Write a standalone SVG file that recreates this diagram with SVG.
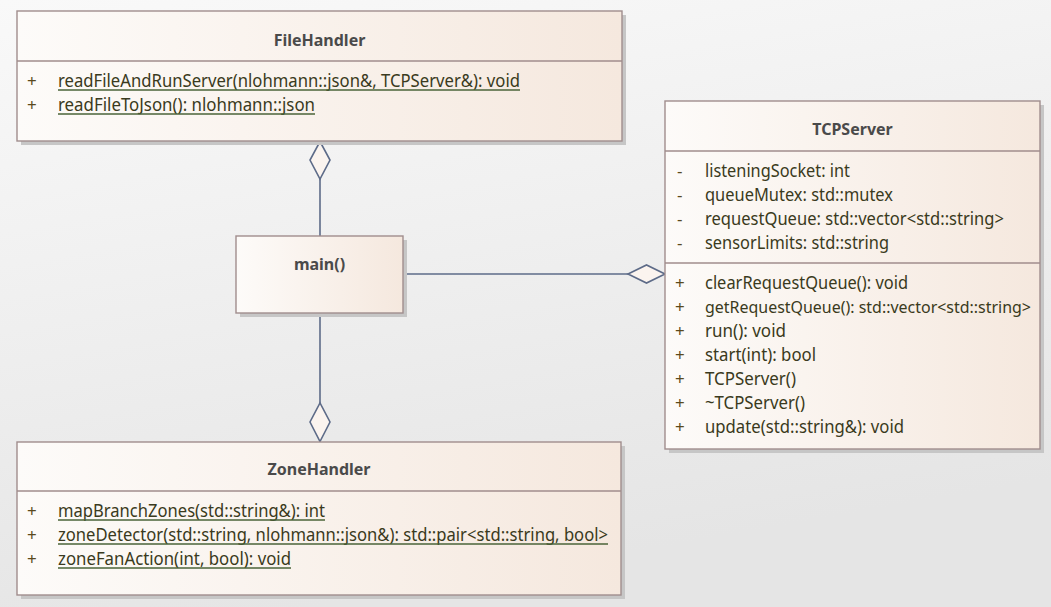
<svg xmlns="http://www.w3.org/2000/svg" width="1051" height="607" viewBox="0 0 1051 607">
<defs>
<linearGradient id="bg" x1="0" y1="0" x2="0.3" y2="1">
<stop offset="0" stop-color="#f9f9f9"/>
<stop offset="1" stop-color="#e5e5e5"/>
</linearGradient>
<linearGradient id="box" x1="0" y1="0" x2="1" y2="0">
<stop offset="0" stop-color="#fdfbf9"/>
<stop offset="1" stop-color="#f5e8de"/>
</linearGradient>
<style>
.shadow{fill:#c6c6c6;}
.frame{fill:url(#box);stroke:#a08d8d;stroke-width:1.4;}
.div{stroke:#a08d8d;stroke-width:1.4;}
.title{font-family:"Noto Sans","Open Sans","DejaVu Sans",sans-serif;font-weight:bold;font-size:16px;fill:#4a4a4a;text-anchor:middle;}
.mem{font-family:"Noto Sans","Open Sans","DejaVu Sans",sans-serif;font-size:17.5px;fill:#3a3a20;}
.vis{font-family:"Noto Sans","Open Sans","DejaVu Sans",sans-serif;font-size:17px;fill:#5a4a1e;}
.ul{stroke:#4a6338;stroke-width:1.6;}
.conn{stroke:#5d6b88;stroke-width:1.6;fill:none;}
.dia{fill:#fbf4ef;stroke:#5d6b88;stroke-width:1.6;}
</style>
</defs>
<rect x="0" y="0" width="1051" height="607" fill="url(#bg)"/>

<g id="connectors">
<line class="conn" x1="320" y1="179" x2="320" y2="236"/>
<polygon class="dia" points="320,141.5 330,160 320,179 310,160"/>
<line class="conn" x1="403" y1="274" x2="628" y2="274"/>
<polygon class="dia" points="665,274 646.5,265 628,274 646.5,283"/>
<line class="conn" x1="320" y1="313" x2="320" y2="403"/>
<polygon class="dia" points="320,441.5 330,422 320,403 310,422"/>
</g>

<g id="FileHandler">
<rect class="shadow" x="21" y="15" width="605" height="130"/>
<rect class="frame" x="17" y="11" width="605" height="130"/>
<line class="div" x1="17" y1="61" x2="622" y2="61"/>
<text class="title" x="319.5" y="46">FileHandler</text>
<text class="vis" x="27" y="87">+</text>
<text class="mem" x="58" y="87" textLength="462" lengthAdjust="spacingAndGlyphs">readFileAndRunServer(nlohmann::json&amp;, TCPServer&amp;): void</text>
<line class="ul" x1="58" y1="90" x2="520" y2="90"/>
<text class="vis" x="27" y="111">+</text>
<text class="mem" x="58" y="111" textLength="257" lengthAdjust="spacingAndGlyphs">readFileToJson(): nlohmann::json</text>
<line class="ul" x1="58" y1="114" x2="315" y2="114"/>
</g>

<g id="TCPServer">
<rect class="shadow" x="669" y="105" width="375" height="348"/>
<rect class="frame" x="665" y="101" width="375" height="348"/>
<line class="div" x1="665" y1="151" x2="1040" y2="151"/>
<line class="div" x1="665" y1="263" x2="1040" y2="263"/>
<text class="title" x="852.5" y="135">TCPServer</text>
<text class="vis" x="677" y="177">-</text>
<text class="mem" x="705" y="177" textLength="145" lengthAdjust="spacingAndGlyphs">listeningSocket: int</text>
<text class="vis" x="677" y="201">-</text>
<text class="mem" x="705" y="201" textLength="188" lengthAdjust="spacingAndGlyphs">queueMutex: std::mutex</text>
<text class="vis" x="677" y="225">-</text>
<text class="mem" x="705" y="225" textLength="299" lengthAdjust="spacingAndGlyphs">requestQueue: std::vector&lt;std::string&gt;</text>
<text class="vis" x="677" y="249">-</text>
<text class="mem" x="705" y="249" textLength="184" lengthAdjust="spacingAndGlyphs">sensorLimits: std::string</text>
<text class="vis" x="675" y="289">+</text>
<text class="mem" x="705" y="289" textLength="203" lengthAdjust="spacingAndGlyphs">clearRequestQueue(): void</text>
<text class="vis" x="675" y="313">+</text>
<text class="mem" x="705" y="313" style="font-size:15.5px" textLength="326" lengthAdjust="spacingAndGlyphs">getRequestQueue(): std::vector&lt;std::string&gt;</text>
<text class="vis" x="675" y="337">+</text>
<text class="mem" x="705" y="337" textLength="81" lengthAdjust="spacingAndGlyphs">run(): void</text>
<text class="vis" x="675" y="361">+</text>
<text class="mem" x="705" y="361" textLength="111" lengthAdjust="spacingAndGlyphs">start(int): bool</text>
<text class="vis" x="675" y="385">+</text>
<text class="mem" x="705" y="385" textLength="91" lengthAdjust="spacingAndGlyphs">TCPServer()</text>
<text class="vis" x="675" y="409">+</text>
<text class="mem" x="705" y="409" textLength="100" lengthAdjust="spacingAndGlyphs">~TCPServer()</text>
<text class="vis" x="675" y="433">+</text>
<text class="mem" x="705" y="433" textLength="199" lengthAdjust="spacingAndGlyphs">update(std::string&amp;): void</text>
</g>

<g id="main">
<rect class="shadow" x="240" y="240" width="167" height="77"/>
<rect class="frame" x="236" y="236" width="167" height="77"/>
<text class="title" x="319.5" y="270">main()</text>
</g>

<g id="ZoneHandler">
<rect class="shadow" x="21" y="446" width="604" height="153"/>
<rect class="frame" x="17" y="442" width="604" height="153"/>
<line class="div" x1="17" y1="491" x2="621" y2="491"/>
<text class="title" x="319" y="475">ZoneHandler</text>
<text class="vis" x="27" y="517">+</text>
<text class="mem" x="58" y="517" textLength="267" lengthAdjust="spacingAndGlyphs">mapBranchZones(std::string&amp;): int</text>
<line class="ul" x1="58" y1="520" x2="325" y2="520"/>
<text class="vis" x="27" y="541">+</text>
<text class="mem" x="58" y="541" textLength="550" lengthAdjust="spacingAndGlyphs">zoneDetector(std::string, nlohmann::json&amp;): std::pair&lt;std::string, bool&gt;</text>
<line class="ul" x1="58" y1="544" x2="608" y2="544"/>
<text class="vis" x="27" y="565">+</text>
<text class="mem" x="58" y="565" textLength="233" lengthAdjust="spacingAndGlyphs">zoneFanAction(int, bool): void</text>
<line class="ul" x1="58" y1="568" x2="291" y2="568"/>
</g>
</svg>
